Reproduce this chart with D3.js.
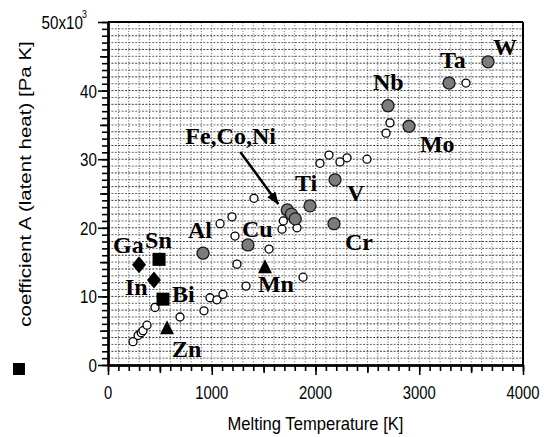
<!DOCTYPE html>
<html>
<meta charset="utf-8">
<style>
  body { margin: 0; background: #fff; }
</style>
<body>
<script src="https://d3js.org/d3.v7.min.js"></script>
<script>

// ---- data ----
// labelled elements drawn as grey filled circles
var metalNames = ["W", "Ta", "Nb", "Mo", "V", "Ti", "Ni", "Co", "Fe", "Cr", "Cu", "Al"];
var metalT     = [3663, 3287, 2699, 2901, 2188, 1947, 1728, 1768, 1805, 2178, 1349, 916];
var metalA     = [44.2, 41.1, 37.8, 34.8, 27.0, 23.2, 22.6, 22.0, 21.3, 20.6, 17.5, 16.3];

// unlabelled elements (open circles)
var otherT = [3450, 2718, 2680, 2043, 2130, 2236, 2304, 2496, 1690, 1677, 1822, 1407,
              1195, 1080, 1224, 1243, 1552, 1880, 1330, 983, 1050, 1108, 925, 694,
              453, 241, 290, 320, 337, 376];
var otherA = [41.1, 35.3, 33.8, 29.4, 30.6, 29.6, 30.2, 30.0, 21.0, 19.8, 20.0, 24.3,
              21.6, 20.6, 18.8, 14.7, 16.9, 12.8, 11.5, 9.8, 9.5, 10.3, 7.9, 7.0,
              8.4, 3.4, 4.3, 4.7, 5.0, 5.8];

var squareNames = ["Sn", "Bi"];
var squareT     = [492, 530];
var squareA     = [15.4, 9.6];

var diamondNames = ["Ga", "In"];
var diamondT     = [299, 443];
var diamondA     = [14.6, 12.4];

var triangleNames = ["Zn", "Mn"];
var triangleT     = [569, 1513];
var triangleA     = [5.5, 14.4];

var xTicks = [0, 1000, 2000, 3000, 4000];
var yTicks = [0, 10, 20, 30, 40, 50];
var yTickLabels = ["0", "10", "20", "30", "40", "50x10"];

// ---- layout ----
var width = 544, height = 437;
// label offsets (px) from the marker centre to the text start/baseline
var labelOffset = {
  W: [5, -7], Ta: [-9, -15], Nb: [-15, -16], Mo: [11, 26], V: [12, 21], Ti: [-15, -15],
  Cr: [11, 26], Cu: [-6, -8], Al: [-15, -15], Ga: [-26, -12], Sn: [-14, -11],
  In: [-29, 15], Bi: [9, 3], Zn: [5, 30], Mn: [-7, 26]
};
// the Fe,Co,Ni label + arrow hang off the Ni point
var clusterLabel = [-102, -66], arrowFrom = [-47, -58], arrowTo = [-9, -6];

var svg = d3.select("body").append("svg")
  .attr("width", width)
  .attr("height", height);

var x = d3.scaleLinear().domain([0, 4000]).range([108, 523]);
var y = d3.scaleLinear().domain([0, 50]).range([365, 22]);

var sans = "'Liberation Sans', Arial, Helvetica, sans-serif";
var serif = "'Liberation Serif', 'Times New Roman', serif";

// dotted grid
var grid = svg.append("g");
grid.selectAll("line.v")
  .data(d3.range(100, 4000, 100))
  .enter().append("line")
  .attr("x1", function(d) { return x(d); })
  .attr("x2", function(d) { return x(d); })
  .attr("y1", y(0)).attr("y2", y(50))
  .style("stroke", "#333")
  .style("stroke-width", 0.8)
  .style("stroke-dasharray", "1,1.8");
grid.selectAll("line.h")
  .data(d3.range(1, 50, 1))
  .enter().append("line")
  .attr("y1", function(d) { return y(d); })
  .attr("y2", function(d) { return y(d); })
  .attr("x1", x(0)).attr("x2", x(4000))
  .style("stroke", function(d) { return d % 2 ? "#555" : "#222"; })
  .style("stroke-width", 0.9)
  .style("stroke-dasharray", "2,1.4");

// axes: three tick lengths each
function drawAxis(axis, vals, size, tr) {
  var g = svg.append("g")
    .attr("transform", tr)
    .call(axis.tickValues(vals).tickSize(size).tickSizeOuter(0).tickFormat(""));
  g.selectAll("line").style("stroke", "#000").style("stroke-width", 1.6);
  g.select(".domain").style("stroke", "#000").style("stroke-width", 2);
}
var xb = "translate(0," + y(0) + ")", yl = "translate(" + x(0) + ",0)";
drawAxis(d3.axisBottom(x), d3.range(0, 4001, 100), 6, xb);
drawAxis(d3.axisBottom(x), d3.range(500, 4001, 1000), 8, xb);
drawAxis(d3.axisBottom(x), xTicks, 10, xb);
drawAxis(d3.axisLeft(y), d3.range(0, 51, 1), 6, yl);
drawAxis(d3.axisLeft(y), d3.range(5, 51, 10), 8, yl);
drawAxis(d3.axisLeft(y), yTicks, 10, yl);

// top and right frame
svg.append("line").attr("x1", x(0)).attr("x2", x(4000)).attr("y1", y(50)).attr("y2", y(50))
  .style("stroke", "#000").style("stroke-width", 2);
svg.append("line").attr("x1", x(4000)).attr("x2", x(4000)).attr("y1", y(50)).attr("y2", y(0))
  .style("stroke", "#000").style("stroke-width", 2);

// tick labels (narrow helvetica look)
svg.append("g").selectAll("text")
  .data(xTicks)
  .enter().append("text")
  .attr("transform", function(d) { return "translate(" + x(d) + "," + (y(0) + 34) + ") scale(0.78,1)"; })
  .attr("text-anchor", "middle")
  .style("font-family", sans)
  .style("font-size", "19px")
  .text(function(d) { return d; });

svg.append("g").selectAll("text")
  .data(yTicks)
  .enter().append("text")
  .attr("transform", function(d, i) {
    return "translate(" + (i == 5 ? 83 : 97) + "," + (y(d) + 7) + ") scale(0.8,1)";
  })
  .attr("text-anchor", "end")
  .style("font-family", sans)
  .style("font-size", "19px")
  .text(function(d, i) { return yTickLabels[i]; });
svg.append("text")
  .attr("transform", "translate(82," + (y(50) - 4) + ") scale(0.8,1)")
  .style("font-family", sans)
  .style("font-size", "11px")
  .text("3");

// axis titles
svg.append("text")
  .attr("transform", "translate(" + ((x(0) + x(4000)) / 2) + ",430) scale(0.95,1)")
  .attr("text-anchor", "middle")
  .style("font-family", sans)
  .style("font-size", "17.5px")
  .text("Melting Temperature [K]");
svg.append("text")
  .attr("transform", "translate(31,184) rotate(-90) scale(1,0.83)")
  .attr("text-anchor", "middle")
  .style("font-family", sans)
  .style("font-size", "20.5px")
  .text("coefficient A (latent heat) [Pa K]");

// stray legend square
svg.append("rect").attr("x", 13).attr("y", 363).attr("width", 12).attr("height", 12)
  .style("fill", "#000");

// ---- marks ----
var others = otherT.map(function(t, i) { return { T: t, A: otherA[i] }; });
svg.append("g").selectAll("circle")
  .data(others)
  .enter().append("circle")
  .attr("cx", function(d) { return x(d.T); })
  .attr("cy", function(d) { return y(d.A); })
  .attr("r", 4)
  .style("fill", "#fff")
  .style("stroke", "#000")
  .style("stroke-width", 1.3);

var metals = metalNames.map(function(n, i) { return { name: n, T: metalT[i], A: metalA[i] }; });
svg.append("g").selectAll("circle")
  .data(metals)
  .enter().append("circle")
  .attr("cx", function(d) { return x(d.T); })
  .attr("cy", function(d) { return y(d.A); })
  .attr("r", 6)
  .style("fill", "#7c7c7c")
  .style("stroke", "#1a1a1a")
  .style("stroke-width", 1.3);

var squares = squareNames.map(function(n, i) { return { name: n, T: squareT[i], A: squareA[i] }; });
svg.append("g").selectAll("rect")
  .data(squares)
  .enter().append("rect")
  .attr("x", function(d) { return x(d.T) - 6.5; })
  .attr("y", function(d) { return y(d.A) - 6.5; })
  .attr("width", 13).attr("height", 13)
  .style("fill", "#000");

var diamonds = diamondNames.map(function(n, i) { return { name: n, T: diamondT[i], A: diamondA[i] }; });
svg.append("g").selectAll("path")
  .data(diamonds)
  .enter().append("path")
  .attr("transform", function(d) { return "translate(" + x(d.T) + "," + y(d.A) + ")"; })
  .attr("d", "M0,-8.5L7,0L0,8.5L-7,0Z")
  .style("fill", "#000");

var triangles = triangleNames.map(function(n, i) { return { name: n, T: triangleT[i], A: triangleA[i] }; });
svg.append("g").selectAll("path")
  .data(triangles)
  .enter().append("path")
  .attr("transform", function(d) { return "translate(" + x(d.T) + "," + y(d.A) + ")"; })
  .attr("d", "M0,-7L7,7L-7,7Z")
  .style("fill", "#000");

// element labels
var labelled = metals.concat(squares, diamonds, triangles).filter(function(d) { return labelOffset[d.name]; });
svg.append("g").selectAll("text")
  .data(labelled)
  .enter().append("text")
  .attr("x", function(d) { return x(d.T) + labelOffset[d.name][0]; })
  .attr("y", function(d) { return y(d.A) + labelOffset[d.name][1]; })
  .style("font-family", serif)
  .style("font-weight", "bold")
  .style("font-size", "24px")
  .style("fill", "#000")
  .text(function(d) { return d.name; });

// Fe,Co,Ni label with arrow
var ni = metals.filter(function(d) { return d.name == "Ni"; })[0];
var nx = x(ni.T), ny = y(ni.A);
svg.append("defs").append("marker")
  .attr("id", "head")
  .attr("markerUnits", "userSpaceOnUse")
  .attr("markerWidth", 14).attr("markerHeight", 12)
  .attr("refX", 12).attr("refY", 5)
  .attr("orient", "auto")
  .append("path")
  .attr("d", "M0,0L13,5L0,10Z")
  .style("fill", "#000");
svg.append("line")
  .attr("x1", nx + arrowFrom[0]).attr("y1", ny + arrowFrom[1])
  .attr("x2", nx + arrowTo[0]).attr("y2", ny + arrowTo[1])
  .style("stroke", "#000")
  .style("stroke-width", 2.5)
  .attr("marker-end", "url(#head)");
svg.append("text")
  .attr("x", nx + clusterLabel[0])
  .attr("y", ny + clusterLabel[1])
  .style("font-family", serif)
  .style("font-weight", "bold")
  .style("font-size", "24px")
  .style("fill", "#000")
  .text("Fe,Co,Ni");

</script>
</body>
</html>
